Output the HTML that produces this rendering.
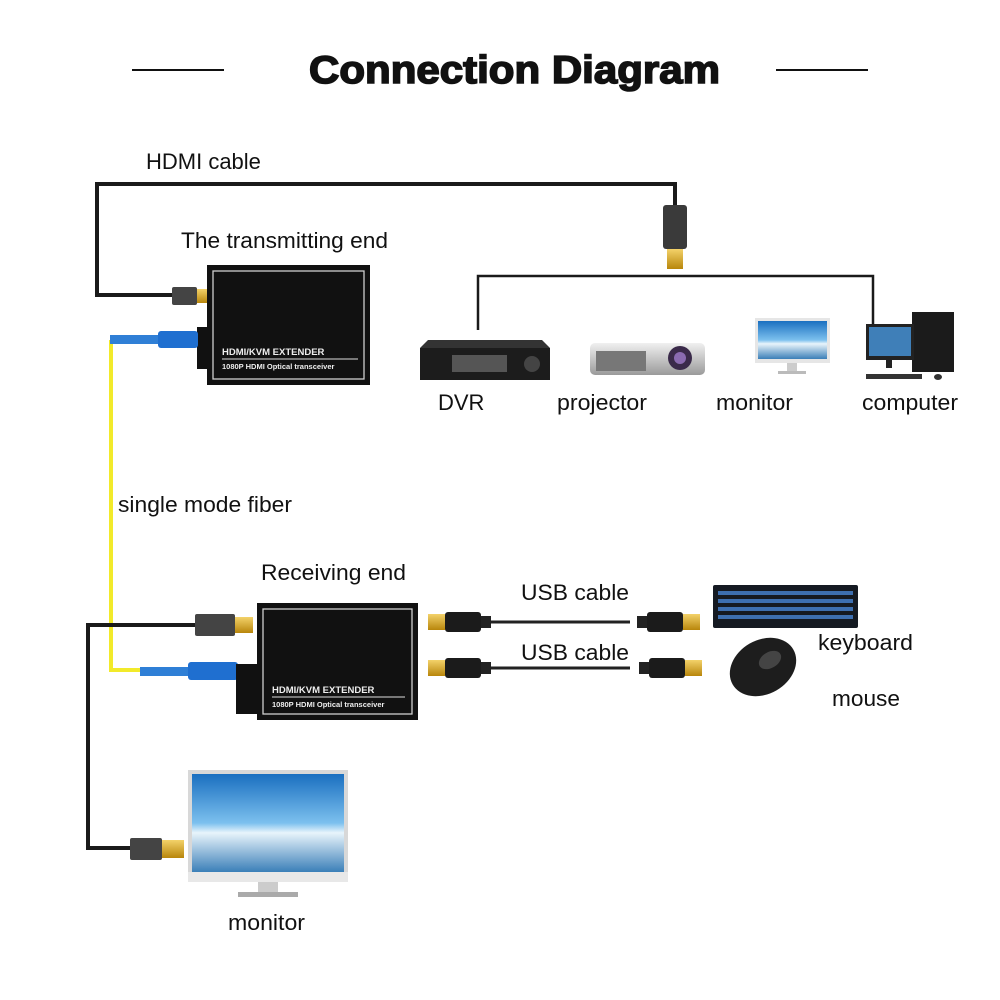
<!DOCTYPE html>
<html><head><meta charset="utf-8"><style>
html,body{margin:0;padding:0;background:#fff;}
svg{display:block;}
text{font-family:"Liberation Sans",Arial,sans-serif;fill:#111;}
</style></head><body>
<svg width="1000" height="1000" viewBox="0 0 1000 1000" xmlns="http://www.w3.org/2000/svg">
<defs>
<linearGradient id="gold" x1="0" y1="0" x2="0" y2="1"><stop offset="0" stop-color="#f3d26a"/><stop offset="1" stop-color="#b8860b"/></linearGradient>
<linearGradient id="scr" x1="0" y1="0" x2="0" y2="1"><stop offset="0" stop-color="#1a6fc0"/><stop offset="0.5" stop-color="#7cc0ee"/><stop offset="0.6" stop-color="#e8f4fb"/><stop offset="1" stop-color="#3b7fb8"/></linearGradient>
<linearGradient id="silver" x1="0" y1="0" x2="0" y2="1"><stop offset="0" stop-color="#f0f0f0"/><stop offset="1" stop-color="#9a9a9a"/></linearGradient>
<g id="usb">
<rect x="0" y="-8" width="17" height="16" fill="url(#gold)"/>
<rect x="17" y="-10" width="36" height="20" rx="3" fill="#1b1b1b"/>
<rect x="53" y="-6" width="10" height="12" fill="#222"/>
</g>
</defs>

<!-- title -->
<line x1="132" y1="70" x2="224" y2="70" stroke="#111" stroke-width="2"/>
<line x1="776" y1="70" x2="868" y2="70" stroke="#111" stroke-width="2"/>
<text x="309" y="83" font-size="39" font-weight="bold" textLength="411" lengthAdjust="spacingAndGlyphs" stroke="#111" stroke-width="1.6">Connection Diagram</text>

<!-- HDMI cable top -->
<text x="146" y="169" font-size="22">HDMI cable</text>
<path d="M675 212 V184 H97 V295 H175" fill="none" stroke="#1a1a1a" stroke-width="4"/>
<rect x="663" y="205" width="24" height="44" rx="3" fill="#3a3a3a"/>
<rect x="667" y="249" width="16" height="20" fill="url(#gold)"/>
<rect x="172" y="287" width="25" height="18" rx="2" fill="#444"/>
<rect x="197" y="289" width="10" height="14" fill="url(#gold)"/>

<text x="181" y="248" font-size="22" textLength="207" lengthAdjust="spacingAndGlyphs">The transmitting end</text>
<!-- transmitter -->
<rect x="197" y="327" width="14" height="42" fill="#111"/>
<rect x="207" y="265" width="163" height="120" fill="#111"/>
<rect x="213" y="271" width="151" height="108" fill="none" stroke="#cfcfcf" stroke-width="1.3"/>
<text x="222" y="355" font-size="9.5" font-weight="bold" style="fill:#eee">HDMI/KVM  EXTENDER</text>
<line x1="222" y1="359" x2="358" y2="359" stroke="#ddd" stroke-width="1"/>
<text x="222" y="369" font-size="7.5" font-weight="bold" style="fill:#eee">1080P HDMI Optical transceiver</text>
<!-- fiber -->
<path d="M111 340 V670 H145" fill="none" stroke="#f2ea2a" stroke-width="4"/>
<rect x="110" y="335" width="48" height="9" fill="#2f7fd6"/>
<rect x="158" y="331" width="40" height="17" rx="3" fill="#1f6fd0"/>
<rect x="140" y="667" width="48" height="9" fill="#2f7fd6"/>
<rect x="188" y="662" width="50" height="18" rx="3" fill="#1f6fd0"/>

<text x="118" y="512" font-size="22" textLength="174" lengthAdjust="spacingAndGlyphs">single mode fiber</text>

<!-- devices bracket -->
<path d="M478 330 V276 H873 V326" fill="none" stroke="#1a1a1a" stroke-width="2.5"/>
<!-- DVR -->
<rect x="420" y="348" width="130" height="32" fill="#1c1c1c"/>
<polygon points="428,340 542,340 550,348 420,348" fill="#333"/>
<rect x="452" y="355" width="55" height="17" fill="#555"/>
<circle cx="532" cy="364" r="8" fill="#444"/>
<!-- projector -->
<rect x="590" y="343" width="115" height="32" rx="5" fill="url(#silver)"/>
<rect x="596" y="351" width="50" height="20" fill="#777"/>
<circle cx="680" cy="358" r="12" fill="#3a2a4a"/>
<circle cx="680" cy="358" r="6" fill="#8a6ab0"/>
<!-- monitor top -->
<rect x="755" y="318" width="75" height="45" fill="#e6e6e6"/>
<rect x="758" y="321" width="69" height="38" fill="url(#scr)"/>
<rect x="787" y="363" width="10" height="8" fill="#ccc"/>
<rect x="778" y="371" width="28" height="3" fill="#bbb"/>
<!-- computer -->
<rect x="912" y="312" width="42" height="60" fill="#1b1b1b"/>
<rect x="866" y="324" width="48" height="36" fill="#222"/>
<rect x="869" y="327" width="42" height="29" fill="#3f7fb8"/>
<rect x="886" y="360" width="6" height="8" fill="#222"/>
<rect x="866" y="374" width="56" height="5" fill="#333"/>
<ellipse cx="938" cy="377" rx="4" ry="3" fill="#333"/>

<text x="438" y="410" font-size="22">DVR</text>
<text x="557" y="410" font-size="22" textLength="90" lengthAdjust="spacingAndGlyphs">projector</text>
<text x="716" y="410" font-size="22" textLength="77" lengthAdjust="spacingAndGlyphs">monitor</text>
<text x="862" y="410" font-size="22" textLength="96" lengthAdjust="spacingAndGlyphs">computer</text>

<!-- receiving -->
<text x="261" y="580" font-size="22" textLength="145" lengthAdjust="spacingAndGlyphs">Receiving end</text>
<path d="M200 625 H88 V848 H135" fill="none" stroke="#1a1a1a" stroke-width="4"/>
<rect x="195" y="614" width="40" height="22" rx="2" fill="#444"/>
<rect x="235" y="617" width="18" height="16" fill="url(#gold)"/>
<rect x="236" y="664" width="22" height="50" fill="#111"/>
<rect x="257" y="603" width="161" height="117" fill="#111"/>
<rect x="263" y="609" width="149" height="105" fill="none" stroke="#cfcfcf" stroke-width="1.3"/>
<text x="272" y="693" font-size="9.5" font-weight="bold" style="fill:#eee">HDMI/KVM  EXTENDER</text>
<line x1="272" y1="697" x2="405" y2="697" stroke="#ddd" stroke-width="1"/>
<text x="272" y="707" font-size="7.5" font-weight="bold" style="fill:#eee">1080P HDMI Optical transceiver</text>

<!-- usb -->
<line x1="490" y1="622" x2="630" y2="622" stroke="#222" stroke-width="3"/>
<line x1="490" y1="668" x2="630" y2="668" stroke="#222" stroke-width="3"/>
<use href="#usb" x="428" y="622"/>
<use href="#usb" x="428" y="668"/>
<use href="#usb" transform="translate(700,622) scale(-1,1)"/>
<use href="#usb" transform="translate(702,668) scale(-1,1)"/>
<text x="521" y="600" font-size="22" textLength="108" lengthAdjust="spacingAndGlyphs">USB cable</text>
<text x="521" y="660" font-size="22" textLength="108" lengthAdjust="spacingAndGlyphs">USB cable</text>

<!-- keyboard & mouse -->
<rect x="713" y="585" width="145" height="43" rx="2" fill="#151a22"/>
<g fill="#3d6fb0">
<rect x="718" y="591" width="135" height="4"/><rect x="718" y="599" width="135" height="4"/><rect x="718" y="607" width="135" height="4"/><rect x="718" y="615" width="135" height="4"/>
</g>
<ellipse cx="763" cy="667" rx="35" ry="27" transform="rotate(-30 763 667)" fill="#1d1d1d"/>
<ellipse cx="770" cy="660" rx="12" ry="8" transform="rotate(-30 770 660)" fill="#444"/>
<text x="818" y="650" font-size="22" textLength="95" lengthAdjust="spacingAndGlyphs">keyboard</text>
<text x="832" y="706" font-size="22" textLength="68" lengthAdjust="spacingAndGlyphs">mouse</text>

<!-- bottom monitor -->
<rect x="188" y="770" width="160" height="112" fill="#d8d8d8"/>
<rect x="192" y="774" width="152" height="98" fill="url(#scr)"/>
<rect x="188" y="872" width="160" height="10" fill="#e8e8e8"/>
<rect x="258" y="882" width="20" height="10" fill="#ccc"/>
<rect x="238" y="892" width="60" height="5" fill="#aaa"/>
<rect x="130" y="838" width="32" height="22" rx="2" fill="#444"/>
<rect x="162" y="840" width="22" height="18" fill="url(#gold)"/>
<text x="228" y="930" font-size="22" textLength="77" lengthAdjust="spacingAndGlyphs">monitor</text>
</svg>
</body></html>
